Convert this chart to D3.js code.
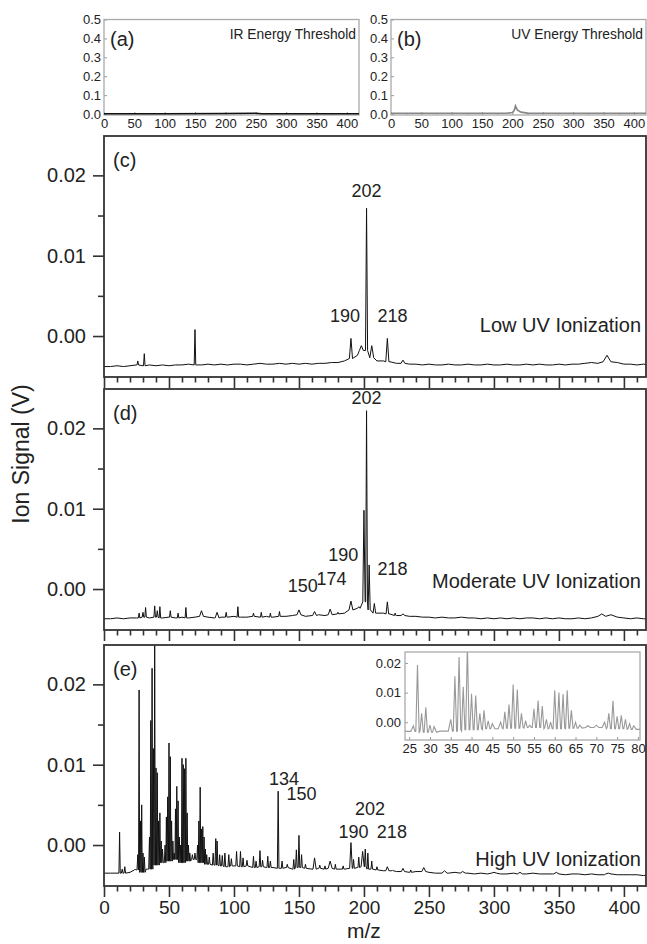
<!DOCTYPE html>
<meta charset="utf-8">
<script src="https://d3js.org/d3.v7.min.js"></script>
<style>
  body { margin: 0; background: #fff; }
  text { font-family: "Liberation Sans", Arial, sans-serif; fill: #222; }
</style>
<div id="chart"></div>
<script>

// ---- data ----
var mzTicks = [0, 50, 100, 150, 200, 250, 300, 350, 400];
var signalTicks = [0.00, 0.01, 0.02];
var signalMinor = [0.005, 0.015];
var thresholdTicks = [0.0, 0.1, 0.2, 0.3, 0.4, 0.5];
var insetMzTicks = [25, 30, 35, 40, 45, 50, 55, 60, 65, 70, 75, 80];
var insetSignalTicks = [0.00, 0.01, 0.02];

// threshold traces (a) IR and (b) UV, [m/z, signal]
var traceIR = [[0, 0.002], [100, 0.002], [200, 0.003], [250, 0.004], [260, 0.002], [420, 0.002]];
var traceUV = [[0, 0.004], [100, 0.004], [190, 0.004], [200, 0.008], [203, 0.020], [205, 0.043],
  [208, 0.022], [214, 0.010], [225, 0.005], [300, 0.004], [420, 0.004]];

// baselines of (c) (d) (e), one value every 5 m/z from 0 to 420
var baseStep = 5;
var baseC = [
  -0.0038, -0.0038, -0.0037, -0.0038, -0.0037, -0.0036, -0.0037, -0.0036, -0.0037, -0.0036,
  -0.0037, -0.0036, -0.0036, -0.0035, -0.0036, -0.0036, -0.0035, -0.0036, -0.0035, -0.0036,
  -0.0035, -0.0035, -0.0036, -0.0035, -0.0034, -0.0035, -0.0035, -0.0034, -0.0035, -0.0034,
  -0.0035, -0.0034, -0.0035, -0.0034, -0.0034, -0.0033, -0.0033, -0.0031, -0.0028, -0.0024,
  -0.0018, -0.0027, -0.0031, -0.0031, -0.0032, -0.0034, -0.0034, -0.0035, -0.0035, -0.0036,
  -0.0035, -0.0036, -0.0036, -0.0035, -0.0036, -0.0036, -0.0035, -0.0036, -0.0036, -0.0035,
  -0.0036, -0.0036, -0.0035, -0.0036, -0.0036, -0.0035, -0.0036, -0.0035, -0.0036, -0.0036,
  -0.0035, -0.0036, -0.0035, -0.0035, -0.0034, -0.0033, -0.0034, -0.0032, -0.0029, -0.0033,
  -0.0035, -0.0035, -0.0036, -0.0035, -0.0036];
var baseD = [
  -0.0037, -0.0037, -0.0036, -0.0037, -0.0036, -0.0036, -0.0035, -0.0036, -0.0035, -0.0036,
  -0.0035, -0.0036, -0.0035, -0.0036, -0.0035, -0.0034, -0.0035, -0.0036, -0.0035, -0.0035,
  -0.0034, -0.0035, -0.0035, -0.0034, -0.0035, -0.0034, -0.0035, -0.0034, -0.0034, -0.0033,
  -0.0032, -0.0034, -0.0033, -0.0032, -0.0033, -0.0032, -0.0031, -0.0030, -0.0026, -0.0024,
  -0.0016, -0.0026, -0.0030, -0.0030, -0.0031, -0.0033, -0.0033, -0.0034, -0.0034, -0.0035,
  -0.0035, -0.0036, -0.0035, -0.0036, -0.0036, -0.0035, -0.0036, -0.0036, -0.0037, -0.0036,
  -0.0037, -0.0036, -0.0037, -0.0036, -0.0037, -0.0036, -0.0036, -0.0037, -0.0036, -0.0037,
  -0.0036, -0.0037, -0.0037, -0.0036, -0.0037, -0.0036, -0.0035, -0.0034, -0.0032, -0.0035,
  -0.0036, -0.0037, -0.0036, -0.0037, -0.0037];
var baseE = [
  -0.0035, -0.0035, -0.0035, -0.0035, -0.0034, -0.0031, -0.0034, -0.0030, -0.0025, -0.0022,
  -0.0020, -0.0018, -0.0022, -0.0020, -0.0018, -0.0022, -0.0024, -0.0025, -0.0026, -0.0027,
  -0.0026, -0.0027, -0.0026, -0.0028, -0.0027, -0.0028, -0.0028, -0.0029, -0.0028, -0.0030,
  -0.0028, -0.0029, -0.0030, -0.0029, -0.0030, -0.0029, -0.0030, -0.0030, -0.0029, -0.0028,
  -0.0027, -0.0030, -0.0031, -0.0032, -0.0032, -0.0033, -0.0033, -0.0034, -0.0033, -0.0033,
  -0.0034, -0.0035, -0.0035, -0.0035, -0.0034, -0.0035, -0.0035, -0.0036, -0.0035, -0.0036,
  -0.0035, -0.0036, -0.0036, -0.0035, -0.0036, -0.0036, -0.0035, -0.0036, -0.0036, -0.0036,
  -0.0036, -0.0037, -0.0036, -0.0036, -0.0037, -0.0036, -0.0037, -0.0037, -0.0036, -0.0037,
  -0.0037, -0.0037, -0.0037, -0.0038, -0.0037];

// peaks: [m/z, top signal, half width]
var peaksC = [[26, -0.0031], [31, -0.0022], [70, 0.0008], [190, -0.0003, 1.2], [198, -0.0012, 1.5],
  [202, 0.0159, 0.8], [206, -0.0012, 1.5], [218, -0.0003, 1.2], [230, -0.0030, 1.5], [387, -0.0024, 3]];
var peaksD = [[27, -0.0030], [30, -0.0029], [32, -0.0023], [39, -0.0021], [41, -0.0027], [43, -0.0022],
  [51, -0.0027], [57, -0.0030], [63, -0.0023], [75, -0.0027, 1.5], [87, -0.0029, 1.5], [94, -0.0029],
  [103, -0.0022], [115, -0.0030], [121, -0.0029], [128, -0.0030], [135, -0.0028], [150, -0.0026, 1.5],
  [162, -0.0028, 1.5], [174, -0.0025, 1.5], [180, -0.0029], [190, -0.0015, 1.5], [196, -0.0022, 1],
  [200, 0.0098, 0.9], [202, 0.0222, 0.7], [204, 0.0030, 0.8], [208, -0.0018, 1], [218, -0.0016, 1],
  [224, -0.0030], [230, -0.0031, 1.5], [383, -0.0031, 3]];
var peaksE = [[12, 0.0016, 0.5], [14, -0.0030], [16, -0.0027], [24, -0.0030], [26, -0.0012], [27, 0.0193],
  [28, 0.0030], [29, 0.0050], [30, -0.0010], [31, -0.0015], [33, -0.0030], [35, 0.0010], [36, 0.0155],
  [37, 0.0220], [38, 0.0120], [39, 0.0265], [40, 0.0096], [41, 0.0090], [42, 0.0030], [43, 0.0040],
  [44, 0.0005], [45, -0.0005], [47, 0.0000], [48, 0.0035], [49, 0.0060], [50, 0.0127], [51, 0.0110],
  [52, 0.0030], [53, 0.0005], [54, -0.0010], [55, 0.0045], [56, 0.0073], [57, 0.0055], [58, 0.0010],
  [59, 0.0000], [60, 0.0108], [61, 0.0100], [62, 0.0095], [63, 0.0108], [64, 0.0040], [65, 0.0000],
  [66, -0.0010], [68, -0.0012], [70, -0.0010], [72, 0.0000], [73, 0.0030], [74, 0.0072], [75, 0.0020],
  [76, 0.0023], [77, 0.0010], [78, -0.0005], [79, -0.0012], [81, -0.0015], [84, -0.0010], [86, 0.0008],
  [87, 0.0005], [89, -0.0012], [91, -0.0013], [93, -0.0010], [96, -0.0012], [98, -0.0017], [102, -0.0008],
  [105, -0.0008], [107, -0.0016], [110, -0.0019], [115, -0.0014], [117, -0.0020], [120, -0.0007],
  [122, -0.0019], [126, -0.0014], [128, -0.0020], [134, 0.0067, 0.6], [137, -0.0020], [141, -0.0024],
  [146, -0.0018], [148, -0.0006], [150, 0.0012], [152, -0.0012], [155, -0.0024], [162, -0.0016, 1.2],
  [166, -0.0025], [170, -0.0026], [174, -0.0020, 1.5], [178, -0.0024], [184, -0.0026], [190, 0.0003, 1],
  [192, -0.0018], [196, -0.0015], [199, -0.0008, 1.2], [201, -0.0005], [203, -0.0010], [206, -0.0020],
  [210, -0.0027], [218, -0.0027, 1.2], [222, -0.0031], [230, -0.0029, 1.2], [236, -0.0031],
  [246, -0.0028, 1.5], [262, -0.0032, 2], [276, -0.0033, 2], [300, -0.0034, 2], [320, -0.0034, 2],
  [348, -0.0034, 2], [388, -0.0035, 2]];

// peak labels: [text, m/z, signal]
var notesC = [["202", 202, 0.0173], ["190", 185.5, 0.0017], ["218", 222, 0.0017]];
var notesD = [["202", 202, 0.0230], ["190", 184, 0.0035], ["218", 222, 0.0017], ["150", 153, -0.0004], ["174", 175, 0.0005]];
var notesE = [["134", 138.5, 0.0075], ["150", 152, 0.0056], ["202", 204.6, 0.0037], ["190", 192, 0.0009], ["218", 221.5, 0.0009]];

// ---- layout ----
var svg = d3.select("#chart").append("svg").attr("width", 647).attr("height", 944);
var left = 104, right = 646, panelH = 241;
var x = d3.scaleLinear().domain([0, 417]).range([left, right]);
var line = d3.line();

function spectrum(base, peaks) {
  var pts = [];
  base.forEach(function(v, i) {
    var mz = i * baseStep;
    var inside = peaks.some(function(p) { return Math.abs(p[0] - mz) <= (p[2] || 0.6); });
    if (!inside) pts.push([mz, v]);
  });
  peaks.forEach(function(p) {
    var w = p[2] || 0.6;
    var b = base[Math.round(p[0] / baseStep)];
    pts.push([p[0] - w, b], [p[0], p[1]], [p[0] + w, b]);
  });
  pts.sort(function(a, b) { return a[0] - b[0]; });
  return pts;
}

function styleAxis(g, size, color, width) {
  g.select(".domain").remove();
  g.selectAll(".tick line").attr("stroke", color).attr("stroke-width", width);
  g.selectAll(".tick text").style("font-size", size + "px").attr("fill", "#222")
    .style("font-family", '"Liberation Sans", Arial, sans-serif');
}

// ---- top threshold panels ----
function thresholdPanel(x0, trace, tag, title, color) {
  var w = 255;
  var xs = d3.scaleLinear().domain([0, 420]).range([x0, x0 + w]);
  var ys = d3.scaleLinear().domain([-0.005, 0.5]).range([115, 19.5]);
  var g = svg.append("g");
  g.append("g").attr("transform", "translate(" + x0 + ",0)")
    .call(d3.axisLeft(ys).tickValues(thresholdTicks).tickSize(-3).tickPadding(3).tickFormat(d3.format(".1f")))
    .call(styleAxis, 13, "#999", 1);
  g.append("g").attr("transform", "translate(0,115)")
    .call(d3.axisBottom(xs).tickValues(mzTicks).tickSize(-3).tickPadding(4))
    .call(styleAxis, 13, "#999", 1);
  g.append("g").attr("transform", "translate(0,115)")
    .call(d3.axisBottom(xs).tickValues(d3.range(25, 420, 50)).tickSize(-2).tickFormat(""))
    .call(styleAxis, 13, "#aaa", 1);
  g.append("rect").attr("x", x0).attr("y", 19.5).attr("width", w).attr("height", 95.5)
    .attr("fill", "none").attr("stroke", "#aaa").attr("stroke-width", 1.3);
  g.append("path").datum(trace).attr("fill", "none").attr("stroke", color).attr("stroke-width", 1.6)
    .attr("d", line.x(function(d) { return xs(d[0]); }).y(function(d) { return ys(d[1]); }));
  g.append("text").attr("x", x0 + 6).attr("y", 46).style("font-size", "20px").text(tag);
  g.append("text").attr("x", x0 + w - 3).attr("y", 39).attr("text-anchor", "end")
    .style("font-size", "13.8px").text(title);
}
thresholdPanel(104, traceIR, "(a)", "IR Energy Threshold", "#111");
thresholdPanel(391, traceUV, "(b)", "UV Energy Threshold", "#888");

// ---- spectra panels ----
function spectrumPanel(top, base, peaks, tag, notes, caption, captionV, labels) {
  var y = d3.scaleLinear().domain([-0.0051, 0.0249]).range([top + panelH, top]);
  var g = svg.append("g");
  var clipId = "clip" + tag.replace(/\W/g, "");
  svg.append("clipPath").attr("id", clipId).append("rect")
    .attr("x", left).attr("y", top).attr("width", right - left).attr("height", panelH);

  g.append("path").datum(spectrum(base, peaks)).attr("clip-path", "url(#" + clipId + ")")
    .attr("fill", "none").attr("stroke", "#111").attr("stroke-width", 1)
    .attr("d", line.x(function(d) { return x(d[0]); }).y(function(d) { return y(d[1]); }));

  g.append("g").attr("transform", "translate(" + left + ",0)")
    .call(d3.axisLeft(y).tickValues(signalTicks).tickSize(11).tickPadding(7).tickFormat(d3.format(".2f")))
    .call(styleAxis, 20, "#333", 1.6);
  g.append("g").attr("transform", "translate(" + left + ",0)")
    .call(d3.axisLeft(y).tickValues(signalMinor).tickSize(6).tickFormat(""))
    .call(styleAxis, 20, "#333", 1.6);
  g.append("g").attr("transform", "translate(0," + (top + panelH) + ")")
    .call(d3.axisBottom(x).tickValues(mzTicks).tickSize(11).tickPadding(4).tickFormat(labels ? d3.format("d") : ""))
    .call(styleAxis, 19, "#333", 1.6);
  g.append("g").attr("transform", "translate(0," + (top + panelH) + ")")
    .call(d3.axisBottom(x).tickValues(d3.range(10, 417, 10).filter(function(v) { return v % 50; })).tickSize(5.5).tickFormat(""))
    .call(styleAxis, 19, "#333", 1.6);
  g.append("rect").attr("x", left).attr("y", top).attr("width", right - left).attr("height", panelH)
    .attr("fill", "none").attr("stroke", "#333").attr("stroke-width", 1.8);

  g.append("text").attr("x", left + 9).attr("y", top + 31).style("font-size", "20px").text(tag);
  g.selectAll(".note").data(notes).enter().append("text")
    .attr("x", function(d) { return x(d[1]); }).attr("y", function(d) { return y(d[2]); })
    .attr("text-anchor", "middle").style("font-size", "18px").text(function(d) { return d[0]; });
  g.append("text").attr("x", right - 5).attr("y", y(captionV)).attr("text-anchor", "end")
    .style("font-size", "20px").text(caption);
  return y;
}
spectrumPanel(136, baseC, peaksC, "(c)", notesC, "Low UV Ionization", 0.0005, false);
spectrumPanel(389, baseD, peaksD, "(d)", notesD, "Moderate UV Ionization", 0.0001, false);
spectrumPanel(645, baseE, peaksE, "(e)", notesE, "High UV Ionization", -0.0026, true);

// ---- inset of (e), m/z 25-80 ----
var ix = d3.scaleLinear().domain([24, 80.5]).range([405, 640]);
var iy = d3.scaleLinear().domain([-0.006, 0.0237]).range([740, 652]);
var inset = svg.append("g");
inset.append("rect").attr("x", 405).attr("y", 652).attr("width", 235).attr("height", 88).attr("fill", "#fff");
svg.append("clipPath").attr("id", "clipInset").append("rect")
  .attr("x", 405).attr("y", 652).attr("width", 235).attr("height", 88);
inset.append("path").datum(spectrum(baseE, peaksE).filter(function(d) { return d[0] >= 22 && d[0] <= 82; }))
  .attr("clip-path", "url(#clipInset)").attr("fill", "none").attr("stroke", "#999").attr("stroke-width", 1.1)
  .attr("d", line.x(function(d) { return ix(d[0]); }).y(function(d) { return iy(d[1]); }));
inset.append("g").attr("transform", "translate(405,0)")
  .call(d3.axisLeft(iy).tickValues(insetSignalTicks).tickSize(-3).tickPadding(4).tickFormat(d3.format(".2f")))
  .call(styleAxis, 13, "#999", 1);
inset.append("g").attr("transform", "translate(0,740)")
  .call(d3.axisBottom(ix).tickValues(insetMzTicks).tickSize(-3).tickPadding(4))
  .call(styleAxis, 13, "#999", 1);
inset.append("rect").attr("x", 405).attr("y", 652).attr("width", 235).attr("height", 88)
  .attr("fill", "none").attr("stroke", "#aaa").attr("stroke-width", 1.3);

// ---- axis titles ----
svg.append("text").attr("transform", "translate(29,454) rotate(-90)").attr("text-anchor", "middle")
  .style("font-size", "23px").text("Ion Signal (V)");
svg.append("text").attr("x", x(200)).attr("y", 938).attr("text-anchor", "middle")
  .style("font-size", "21px").text("m/z");
</script>
